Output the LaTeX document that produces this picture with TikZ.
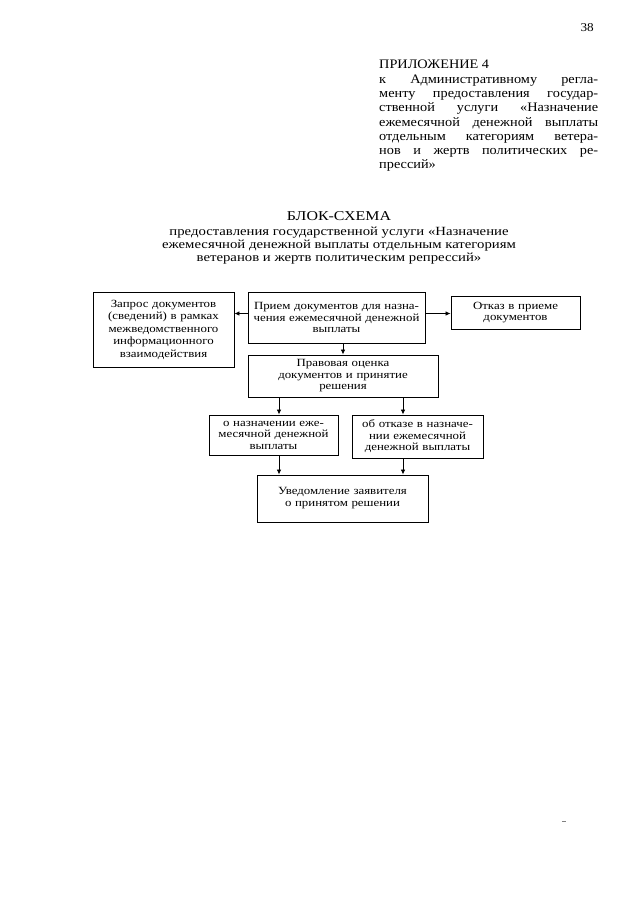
\documentclass[tikz,border=0pt]{standalone}
\usepackage{fontspec}
\setmainfont{Liberation Serif}
\newfontfamily\hdrfont[FakeStretch=1.1]{Liberation Serif}
\newfontfamily\ttlfont[FakeStretch=1.18]{Liberation Serif}
\newfontfamily\boxfont[FakeStretch=1.17]{Liberation Serif}
\usetikzlibrary{arrows.meta}
\tikzset{
  box/.style={draw, line width=0.9pt, inner sep=1pt, align=center, font=\boxfont\fontsize{11}{11.5}\selectfont},
  arr/.style={line width=0.8pt, -{Latex[length=5pt,width=4.5pt]}}
}
\begin{document}
\begin{tikzpicture}[x=1pt,y=-1pt]
\useasboundingbox (0,0) rectangle (640,905);
\node[anchor=base east, inner sep=0, font=\hdrfont\fontsize{12}{12}\selectfont] (pg) at (594,31) {38};
\node[anchor=north west, text width=219pt, inner sep=0, align=justify, font=\hdrfont\fontsize{13}{14.3}\selectfont] (app) at (379,60)
{ПРИЛОЖЕНИЕ 4\\
к Административному регла-\linebreak
менту предоставления государ-\linebreak
ственной услуги «Назначение\linebreak
ежемесячной денежной выплаты\linebreak
отдельным категориям ветера-\linebreak
нов и жертв политических ре-\linebreak
прессий»};
\node[anchor=north, inner sep=0, align=center, font=\ttlfont\fontsize{12.5}{13}\selectfont] (ttl) at (339,211)
{{\fontsize{13.5}{13}\selectfont БЛОК-СХЕМА}\\[2pt]
предоставления государственной услуги «Назначение\\
ежемесячной денежной выплаты отдельным категориям\\
ветеранов и жертв политическим репрессий»};

\node[box, minimum width=141pt, minimum height=75pt, text width=137pt, font=\boxfont\fontsize{11}{12.5}\selectfont] (zap) at (163.5,329.5)
{Запрос документов\\(сведений) в рамках\\межведомственного\\информационного\\взаимодействия};
\node[box, minimum width=177pt, minimum height=51pt, text width=173pt] (pri) at (336.5,317.5)
{Прием документов для назна-\\чения ежемесячной денежной\\выплаты};
\node[box, minimum width=129pt, minimum height=33pt, text width=125pt] (otk) at (515.5,312.5)
{Отказ в приеме\\документов};
\node[box, minimum width=190pt, minimum height=42pt, text width=186pt] (pra) at (343,376)
{Правовая оценка\\документов и принятие\\решения};
\node[box, minimum width=129pt, minimum height=40pt, text width=125pt] (naz) at (273.5,435)
{о назначении еже-\\месячной денежной\\выплаты};
\node[box, minimum width=131pt, minimum height=43pt, text width=127pt] (ots) at (417.5,436.5)
{об отказе в назначе-\\нии ежемесячной\\денежной выплаты};
\node[box, minimum width=171pt, minimum height=47pt, text width=167pt, font=\boxfont\fontsize{11}{12}\selectfont] (uve) at (342.5,498.5)
{Уведомление заявителя\\о принятом решении};

\draw[arr] ([yshift=4pt]pri.west) -- ([yshift=4pt]pri.west -| zap.east);
\draw[arr] ([yshift=4pt]pri.east) -- ([yshift=4pt]pri.east -| otk.west);
\draw[arr] (pra.north |- pri.south) -- (pra.north);
\draw[arr] ([xshift=5.5pt]naz.north |- pra.south) -- ([xshift=5.5pt]naz.north);
\draw[arr] ([xshift=-14.5pt]ots.north |- pra.south) -- ([xshift=-14.5pt]ots.north);
\draw[arr] ([xshift=5.5pt]naz.south) -- ([xshift=5.5pt]naz.south |- uve.north);
\draw[arr] ([xshift=-14.5pt]ots.south) -- ([xshift=-14.5pt]ots.south |- uve.north);

\coordinate (m1) at (562,821);
\coordinate (m2) at (566,821);
\draw[gray, line width=0.6pt] (m1) -- (m2);
\end{tikzpicture}
\end{document}
